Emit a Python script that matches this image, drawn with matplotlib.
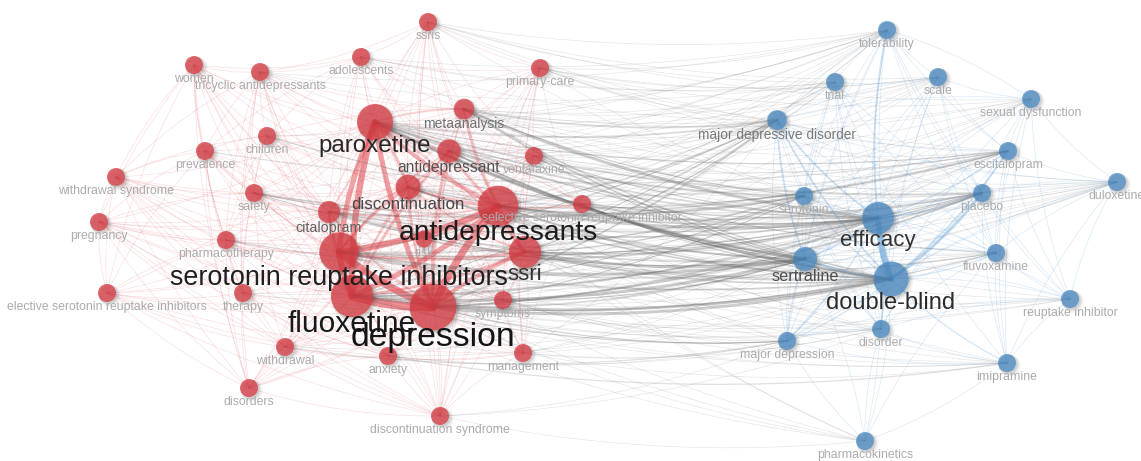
import numpy as np
import matplotlib
matplotlib.use("Agg")
import matplotlib.pyplot as plt
from matplotlib.path import Path
from matplotlib.patches import PathPatch, Circle

plt.rcParams['font.family'] = ['Liberation Sans', 'DejaVu Sans']

# ---------------------------------------------------------------- nodes
node_keys = [
    "ssris", "women", "tca", "adol", "pc", "parox", "meta", "child", "prev",
    "ad1", "venla", "wsyn", "safety", "disc", "ssri1", "ads", "cita", "preg",
    "pharm", "risk", "ssri", "sri", "ssris2", "therapy", "fluox", "dep",
    "symp", "wd", "anx", "mgmt", "disorders", "dsyn",
    "tol", "trial", "scale", "sexdys", "mdd", "escit", "dulox", "serot",
    "placebo", "eff", "sert", "fluvox", "db", "reup", "disorder", "majdep",
    "imip", "pk",
]
node_labels = [
    "ssris", "women", "tricyclic antidepressants", "adolescents", "primary-care",
    "paroxetine", "metaanalysis", "children", "prevalence", "antidepressant",
    "venlafaxine", "withdrawal syndrome", "safety", "discontinuation",
    "selective serotonin reuptake inhibitor", "antidepressants", "citalopram",
    "pregnancy", "pharmacotherapy", "risk", "ssri",
    "serotonin reuptake inhibitors", "elective serotonin reuptake inhibitors",
    "therapy", "fluoxetine", "depression", "symptoms", "withdrawal", "anxiety",
    "management", "disorders", "discontinuation syndrome",
    "tolerability", "trial", "scale", "sexual dysfunction",
    "major depressive disorder", "escitalopram", "duloxetine", "serotonin",
    "placebo", "efficacy", "sertraline", "fluvoxamine", "double-blind",
    "reuptake inhibitor", "disorder", "major depression", "imipramine",
    "pharmacokinetics",
]
# map coordinates (x to the right, y downward)
node_x = [428, 194, 260, 361, 540, 375, 464, 267, 205, 449, 534, 116, 254, 408,
          582, 498, 329, 99, 226, 424, 525, 339, 107, 243, 352, 433, 503, 285,
          388, 523, 249, 440,
          887, 835, 938, 1031, 777, 1008, 1117, 804, 982, 878, 805, 996, 891,
          1070, 881, 787, 1007, 865]
node_y = [22, 65, 72, 57, 68, 122, 109, 136, 151, 151, 156, 177, 193, 187,
          204, 206, 212, 222, 240, 239, 252, 252, 293, 293, 296, 307, 300, 347,
          356, 353, 388, 416,
          30, 82, 77, 99, 120, 151, 182, 196, 193, 218, 259, 253, 279,
          299, 329, 341, 363, 441]
# occurrences
node_weight = [10, 10, 10, 10, 10, 40, 13, 10, 10, 17, 10, 10, 10, 19,
               10, 51, 15, 10, 10, 9, 32, 48, 10, 10, 55, 68, 10, 10,
               10, 10, 10, 10,
               10, 10, 10, 10, 12, 10, 10, 10, 10, 32, 18, 10, 38,
               10, 10, 10, 10, 10]
node_cluster = [1] * 32 + [2] * 18

# ---------------------------------------------------------------- links
# strong links: (source, target, strength)
strong_links = [
    # cluster 1
    ("fluox", "dep", 8), ("sri", "dep", 7), ("sri", "fluox", 6),
    ("ads", "dep", 7), ("sri", "ads", 6), ("fluox", "ads", 5),
    ("parox", "fluox", 6), ("parox", "sri", 5), ("parox", "dep", 5),
    ("parox", "ads", 4), ("ssri", "dep", 4), ("ads", "ssri", 4),
    ("fluox", "ssri", 3), ("sri", "ssri", 3), ("disc", "parox", 3),
    ("disc", "sri", 3), ("disc", "ads", 3), ("disc", "dep", 3),
    ("disc", "fluox", 2), ("ad1", "dep", 3), ("ad1", "fluox", 3),
    ("parox", "ad1", 2), ("ad1", "ads", 3), ("ad1", "sri", 2),
    ("cita", "sri", 3), ("cita", "fluox", 2), ("cita", "parox", 2),
    ("cita", "dep", 2), ("cita", "ads", 2), ("meta", "ads", 3),
    ("meta", "dep", 2), ("meta", "parox", 2), ("ads", "ssri1", 2),
    ("risk", "ads", 2), ("risk", "dep", 2), ("ssri", "parox", 2),
    ("disc", "ssri", 2), ("disc", "ad1", 2), ("cita", "disc", 2),
    # cluster 2
    ("eff", "db", 6), ("db", "placebo", 3), ("sert", "db", 3),
    ("sert", "eff", 2), ("mdd", "eff", 2), ("mdd", "db", 2),
    ("eff", "placebo", 2), ("db", "escit", 2), ("tol", "eff", 2),
    ("mdd", "sert", 2), ("majdep", "db", 1.5), ("majdep", "eff", 1.5),
    ("serot", "db", 1.5), ("db", "fluvox", 1.5), ("eff", "escit", 1.5),
    ("db", "disorder", 1.5), ("sert", "majdep", 1.5), ("db", "imip", 1.5),
    # between clusters
    ("parox", "sert", 3), ("parox", "db", 3), ("parox", "eff", 2),
    ("meta", "eff", 3), ("meta", "db", 2), ("fluox", "sert", 3),
    ("fluox", "db", 3), ("fluox", "eff", 2), ("sri", "sert", 3),
    ("sri", "db", 2), ("sri", "eff", 2), ("ads", "eff", 3),
    ("ads", "db", 2), ("ads", "sert", 2), ("dep", "db", 3),
    ("dep", "eff", 2), ("dep", "sert", 2), ("ssri", "sert", 3),
    ("ssri", "eff", 2), ("ssri", "db", 2), ("ad1", "eff", 2),
    ("cita", "escit", 2), ("cita", "sert", 2), ("parox", "placebo", 2),
    ("fluox", "placebo", 2), ("ssri1", "eff", 2), ("disc", "sert", 2),
    ("dep", "mdd", 2), ("ads", "mdd", 2), ("parox", "mdd", 2),
    ("safety", "serot", 2), ("prev", "escit", 1.5), ("pharm", "fluvox", 1.5),
    ("wd", "majdep", 1.5), ("anx", "imip", 1.5), ("sri", "serot", 2),
    ("meta", "mdd", 2), ("ads", "placebo", 2), ("disc", "escit", 1.5),
    ("meta", "sert", 2), ("meta", "serot", 1.5), ("ad1", "sert", 2),
    ("ad1", "db", 2), ("parox", "serot", 2), ("venla", "eff", 1.5),
    ("venla", "db", 1.5), ("ssri1", "sert", 1.5), ("ssri1", "db", 1.5),
    ("ads", "serot", 2), ("fluox", "mdd", 1.5), ("sri", "mdd", 1.5),
    ("dep", "placebo", 2), ("dep", "serot", 1.5), ("cita", "eff", 2),
    ("cita", "db", 1.5), ("disc", "eff", 2), ("disc", "db", 2),
    ("risk", "sert", 1.5), ("symp", "sert", 1.5), ("ssri", "placebo", 1.5),
    ("ssri", "serot", 1.5), ("ssri", "mdd", 1.5), ("sri", "placebo", 1.5),
    ("fluox", "serot", 1.5), ("dep", "fluvox", 1.5), ("dep", "majdep", 1.5),
    ("fluox", "majdep", 1.5), ("ads", "escit", 1.5), ("parox", "escit", 1.5),
    ("parox", "fluvox", 1.5), ("child", "eff", 1.5), ("safety", "db", 1.5),
    ("safety", "eff", 1.5),
]

# weak links (strength 1): node -> neighbours
weak_links = {
    "women": ["tca", "adol", "child", "prev", "wsyn", "preg", "pharm", "safety",
              "parox", "sri", "fluox", "dep", "ads", "ad1", "ssri", "cita",
              "therapy", "disorders", "ssris2", "anx"],
    "tca": ["adol", "child", "prev", "safety", "parox", "sri", "fluox", "dep",
            "ads", "ssri", "meta", "ad1", "ssris", "cita", "pharm", "therapy",
            "wsyn", "disorders", "dsyn", "tol", "trial", "eff", "mdd"],
    "adol": ["ssris", "pc", "child", "parox", "meta", "ad1", "dep", "fluox",
             "ads", "sri", "ssri", "disc", "cita", "prev", "tol", "trial",
             "eff", "mdd", "scale"],
    "ssris": ["pc", "parox", "meta", "ad1", "dep", "ads", "fluox", "sri",
              "ssri", "venla", "disc", "cita", "risk", "symp", "dsyn", "tol",
              "trial", "scale", "sexdys", "mdd", "escit", "eff"],
    "pc": ["meta", "ad1", "venla", "ads", "dep", "ssri", "parox", "symp",
           "mgmt", "fluox", "sri", "ssri1", "anx", "dsyn", "tol", "trial",
           "scale", "sexdys", "mdd", "eff", "escit", "dulox"],
    "meta": ["ad1", "fluox", "sri", "ssri", "venla", "disc", "cita", "ssri1",
             "child", "safety", "risk", "tol", "trial", "scale", "escit",
             "placebo", "sert", "serot", "dulox", "sexdys"],
    "child": ["prev", "parox", "sri", "fluox", "dep", "ads", "ad1", "safety",
              "cita", "pharm", "disc", "wsyn", "therapy", "risk", "eff", "tol",
              "db"],
    "prev": ["wsyn", "preg", "safety", "pharm", "parox", "sri", "fluox", "dep",
             "ads", "ssri", "cita", "ssris2", "therapy", "anx", "disorders",
             "mgmt"],
    "venla": ["ad1", "ads", "dep", "fluox", "sri", "parox", "ssri", "ssri1",
              "disc", "cita", "symp", "wd", "dsyn", "mgmt", "dulox", "escit",
              "eff", "sexdys", "db", "tol", "sert", "placebo", "mdd", "scale"],
    "wsyn": ["preg", "safety", "pharm", "disc", "parox", "sri", "fluox", "dep",
             "ads", "ssri", "cita", "ssris2", "therapy", "wd", "dsyn",
             "disorders", "anx"],
    "safety": ["parox", "sri", "fluox", "dep", "ads", "ssri", "cita", "disc",
               "pharm", "preg", "therapy", "risk", "symp", "wd", "eff", "db",
               "placebo", "tol"],
    "ssri1": ["dep", "sri", "fluox", "parox", "ssri", "ad1", "disc", "cita",
              "symp", "risk", "mgmt", "placebo", "sexdys", "escit", "db",
              "sert", "serot", "mdd", "fluvox"],
    "preg": ["pharm", "ssris2", "therapy", "sri", "fluox", "dep", "ads",
             "parox", "cita", "ssri", "disc", "disorders", "wd", "anx", "risk",
             "dsyn"],
    "pharm": ["sri", "fluox", "dep", "ads", "parox", "cita", "ssri", "therapy",
              "ssris2", "disorders", "wd", "anx", "mgmt", "db", "eff"],
    "risk": ["sri", "fluox", "parox", "ssri", "ad1", "disc", "cita", "symp",
             "eff", "db", "sert"],
    "ssris2": ["therapy", "sri", "fluox", "dep", "ads", "parox", "disorders",
               "wd", "anx", "dsyn", "mgmt", "cita"],
    "therapy": ["sri", "fluox", "dep", "ads", "parox", "cita", "wd",
                "disorders", "anx", "dsyn", "ssri", "mgmt", "eff", "db"],
    "symp": ["dep", "fluox", "sri", "ads", "ssri", "parox", "disc", "wd", "anx",
             "mgmt", "dsyn", "placebo", "db", "eff", "majdep", "disorder",
             "imip", "sert", "dulox"],
    "wd": ["disc", "dep", "fluox", "sri", "parox", "ads", "ssri", "disorders",
           "dsyn", "anx", "mgmt", "cita", "db", "eff"],
    "anx": ["dep", "fluox", "sri", "ads", "parox", "ssri", "disorders", "dsyn",
            "mgmt", "disc", "db", "majdep", "disorder", "eff"],
    "mgmt": ["dep", "fluox", "sri", "ads", "ssri", "parox", "dsyn", "disc",
             "db", "disorder", "majdep", "imip", "eff", "sert", "mdd"],
    "disorders": ["dep", "fluox", "sri", "ads", "parox", "dsyn", "disc", "ssri",
                  "cita"],
    "dsyn": ["disc", "dep", "fluox", "sri", "parox", "ads", "ssri", "cita",
             "ad1", "majdep", "pk", "disorder"],
    "parox": ["tol", "trial", "scale", "sexdys", "escit", "dulox", "serot",
              "fluvox", "reup", "imip", "disorder", "majdep", "pk"],
    "ad1": ["tol", "trial", "mdd", "db", "sert", "escit", "placebo", "scale",
            "serot"],
    "ads": ["trial", "tol", "scale", "escit", "dulox", "serot", "fluvox",
            "reup", "imip", "disorder", "majdep", "pk", "sexdys"],
    "fluox": ["tol", "trial", "mdd", "serot", "escit", "fluvox", "reup", "imip",
              "disorder", "majdep", "pk", "dulox", "sexdys", "scale"],
    "sri": ["tol", "mdd", "escit", "placebo", "fluvox", "reup", "imip",
            "disorder", "majdep", "pk", "trial", "dulox"],
    "dep": ["tol", "trial", "scale", "serot", "escit", "placebo", "fluvox",
            "reup", "imip", "disorder", "majdep", "pk", "dulox", "sexdys"],
    "ssri": ["mdd", "serot", "placebo", "escit", "fluvox", "reup", "imip",
             "disorder", "majdep", "trial", "tol", "dulox"],
    "disc": ["eff", "db", "placebo", "mdd", "dulox", "serot"],
    "cita": ["eff", "db", "placebo", "mdd", "fluvox", "dulox", "pk"],
    "tol": ["trial", "scale", "mdd", "escit", "serot", "placebo", "sert", "db",
            "fluvox", "reup", "disorder", "majdep"],
    "sexdys": ["tol", "dulox", "escit", "placebo", "eff", "db", "sert",
               "fluvox", "reup", "imip", "mdd"],
    "trial": ["mdd", "scale", "serot", "eff", "db", "sert", "placebo", "fluvox",
              "disorder", "imip", "majdep"],
    "scale": ["sexdys", "escit", "eff", "db", "placebo", "sert", "mdd",
              "fluvox", "disorder", "majdep"],
    "mdd": ["serot", "escit", "placebo", "fluvox", "majdep", "disorder",
            "dulox"],
    "escit": ["dulox", "placebo", "sert", "serot", "fluvox", "reup", "majdep",
              "disorder", "imip"],
    "dulox": ["placebo", "eff", "db", "fluvox", "reup", "sert", "imip",
              "majdep"],
    "serot": ["eff", "sert", "placebo", "majdep", "fluvox", "disorder"],
    "placebo": ["sert", "fluvox", "majdep", "disorder", "imip", "reup"],
    "fluvox": ["eff", "sert", "reup", "imip", "disorder", "majdep", "pk"],
    "reup": ["eff", "db", "sert", "imip", "majdep", "disorder"],
    "disorder": ["sert", "majdep", "imip", "pk", "eff"],
    "majdep": ["pk", "imip"],
    "pk": ["eff", "db", "sert", "imip"],
}

# ---------------------------------------------------------------- styling
cluster_node_color = {1: "#d93a41", 2: "#4a8bc4"}
cluster_link_color = {1: "#e0474e", 2: "#5b9bd5"}
between_link_color = "#666666"

idx = {k: i for i, k in enumerate(node_keys)}
nx_ = np.array(node_x, float)
ny_ = np.array(node_y, float)
nw = np.array(node_weight, float)
radius = 2.85 * np.sqrt(nw)
font_pt = np.interp(nw, [10, 12, 15, 19, 32, 40, 48, 55, 68],
                    [8.8, 9.9, 10.3, 12.2, 16.0, 17.4, 19.4, 21.5, 24.3])
label_gray = np.interp(nw, [10, 12, 15, 19, 32, 45, 60],
                       [0.67, 0.48, 0.38, 0.28, 0.2, 0.13, 0.08])

W, H = 1141, 461
fig = plt.figure(figsize=(W / 100, H / 100), dpi=100)
ax = fig.add_axes([0, 0, 1, 1])
ax.set_xlim(0, W)
ax.set_ylim(H, 0)
ax.set_aspect("equal")
ax.axis("off")

BEND = 0.08


def link_path(a, b):
    x0, y0 = nx_[a], ny_[a]
    x1, y1 = nx_[b], ny_[b]
    dx, dy = x1 - x0, y1 - y0
    cx = (x0 + x1) / 2 - BEND * dy
    cy = (y0 + y1) / 2 + BEND * dx
    return Path([(x0, y0), (cx, cy), (x1, y1)],
                [Path.MOVETO, Path.CURVE3, Path.CURVE3])


def draw_link(a, b, s):
    ia, ib = idx[a], idx[b]
    ca, cb = node_cluster[ia], node_cluster[ib]
    if ca == cb:
        col = cluster_link_color[ca]
        base = 0.17 if ca == 1 else 0.22
        cap = 0.6
    else:
        col = between_link_color
        base = 0.16
        cap = 0.45
    lw = 0.5 + 0.8 * (s - 1)
    alpha = min(cap, base + 0.08 * (s - 1))
    ax.add_patch(PathPatch(link_path(ia, ib), fill=False, edgecolor=col,
                           lw=lw, alpha=alpha, capstyle="round", zorder=1))


drawn = set()
for a, nbrs in weak_links.items():
    for b in nbrs:
        key = frozenset((a, b))
        if key in drawn or a == b:
            continue
        drawn.add(key)
        draw_link(a, b, 1)
for a, b, s in strong_links:
    draw_link(a, b, s)

# nodes with a soft drop shadow
order = np.argsort(nw)
for i in order:
    x, y, r = nx_[i], ny_[i], radius[i]
    for off, grow, al in [(2.5, 2.0, 0.05), (1.8, 1.0, 0.07), (1.2, 0.3, 0.08)]:
        ax.add_patch(Circle((x + off, y + off), r + grow, fc="black",
                            ec="none", alpha=al, zorder=2))
    ax.add_patch(Circle((x, y), r, fc=cluster_node_color[node_cluster[i]],
                        ec="none", alpha=0.74, zorder=3))

# labels below the nodes
for i in order:
    px = font_pt[i] / 0.72
    base_y = ny_[i] + radius[i] + 4 + 0.35 * px
    g = label_gray[i]
    ax.text(nx_[i], base_y, node_labels[i], ha="center", va="baseline",
            fontsize=font_pt[i], color=(g, g, g), zorder=5 + nw[i] / 100)

fig.savefig("out.png", dpi=100)
